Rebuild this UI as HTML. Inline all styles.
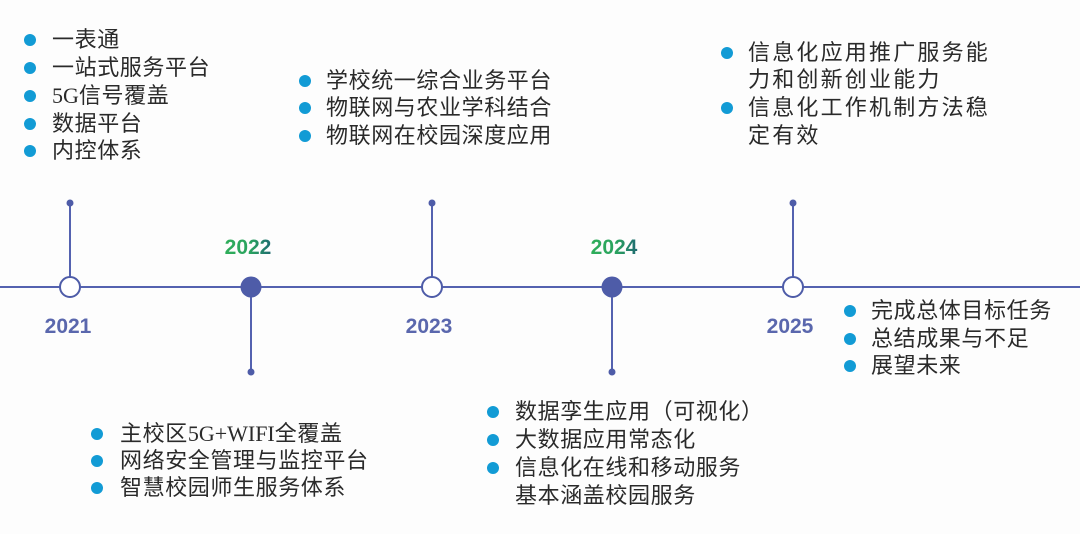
<!DOCTYPE html>
<html><head><meta charset="utf-8"><style>
body{margin:0;width:1080px;height:534px;background:#fdfdfd;position:relative;overflow:hidden;font-family:"Liberation Sans","Noto Sans CJK SC",sans-serif;}
.t{position:absolute;font-size:22px;letter-spacing:0.6px;color:#2a2a2a;white-space:nowrap;line-height:28px;}
.b{position:absolute;width:12px;height:12px;border-radius:50%;background:#129bd5;}
.y{position:absolute;font-size:21px;font-weight:bold;color:#5a67ad;transform:translateX(-50%);line-height:24px;}
.g{background:linear-gradient(90deg,#2fae5a 0%,#2aa25f 55%,#1f6a72 100%);-webkit-background-clip:text;background-clip:text;color:transparent;}
.s{font-family:"Liberation Serif","Noto Serif CJK SC",serif;letter-spacing:0;}
.w{letter-spacing:2.2px;}
</style></head><body>
<svg width="1080" height="534" style="position:absolute;left:0;top:0">
<g stroke="#5462b0" stroke-width="2" fill="none">
<line x1="0" y1="287" x2="1080" y2="287"/>
<line x1="70" y1="203" x2="70" y2="287"/>
<line x1="251" y1="287" x2="251" y2="372"/>
<line x1="432" y1="203" x2="432" y2="287"/>
<line x1="612" y1="287" x2="612" y2="372"/>
<line x1="793" y1="203" x2="793" y2="287"/>
</g>
<g fill="#4e5ca8">
<circle cx="70" cy="203" r="3.5"/><circle cx="251" cy="372" r="3.5"/><circle cx="432" cy="203" r="3.5"/><circle cx="612" cy="372" r="3.5"/><circle cx="793" cy="203" r="3.5"/>
<circle cx="251" cy="287" r="10.5"/><circle cx="612" cy="287" r="10.5"/>
</g>
<g fill="#fff" stroke="#4e5ca8" stroke-width="2">
<circle cx="70" cy="287" r="10"/><circle cx="432" cy="287" r="10"/><circle cx="793" cy="287" r="10"/>
</g>
</svg>
<div class="y" style="left:68px;top:315px">2021</div>
<div class="y g" style="left:248px;top:236px">2022</div>
<div class="y" style="left:429px;top:315px">2023</div>
<div class="y g" style="left:614px;top:236px">2024</div>
<div class="y" style="left:790px;top:315px">2025</div>

<div class="b" style="left:24px;top:34px"></div><div class="t" style="left:52px;top:26px">一表通</div>
<div class="b" style="left:24px;top:62px"></div><div class="t" style="left:52px;top:54px">一站式服务平台</div>
<div class="b" style="left:24px;top:90px"></div><div class="t" style="left:52px;top:82px"><span class="s">5G</span>信号覆盖</div>
<div class="b" style="left:24px;top:118px"></div><div class="t" style="left:52px;top:110px">数据平台</div>
<div class="b" style="left:24px;top:145px"></div><div class="t" style="left:52px;top:137px">内控体系</div>

<div class="b" style="left:299px;top:75px"></div><div class="t" style="left:326px;top:67px">学校统一综合业务平台</div>
<div class="b" style="left:299px;top:102px"></div><div class="t" style="left:326px;top:94px">物联网与农业学科结合</div>
<div class="b" style="left:299px;top:130px"></div><div class="t" style="left:326px;top:122px">物联网在校园深度应用</div>

<div class="b" style="left:721px;top:47px"></div><div class="t w" style="left:748px;top:39px">信息化应用推广服务能</div>
<div class="t w" style="left:748px;top:66px">力和创新创业能力</div>
<div class="b" style="left:721px;top:102px"></div><div class="t w" style="left:748px;top:94px">信息化工作机制方法稳</div>
<div class="t w" style="left:748px;top:122px">定有效</div>

<div class="b" style="left:844px;top:305px"></div><div class="t" style="left:871px;top:297px">完成总体目标任务</div>
<div class="b" style="left:844px;top:333px"></div><div class="t" style="left:871px;top:325px">总结成果与不足</div>
<div class="b" style="left:844px;top:360px"></div><div class="t" style="left:871px;top:352px">展望未来</div>

<div class="b" style="left:91px;top:428px"></div><div class="t" style="left:120px;top:420px">主校区<span class="s">5G+WIFI</span>全覆盖</div>
<div class="b" style="left:91px;top:455px"></div><div class="t" style="left:120px;top:447px">网络安全管理与监控平台</div>
<div class="b" style="left:91px;top:482px"></div><div class="t" style="left:120px;top:474px">智慧校园师生服务体系</div>

<div class="b" style="left:487px;top:406px"></div><div class="t" style="left:515px;top:398px">数据孪生应用（可视化）</div>
<div class="b" style="left:487px;top:434px"></div><div class="t" style="left:515px;top:426px">大数据应用常态化</div>
<div class="b" style="left:487px;top:462px"></div><div class="t" style="left:515px;top:454px">信息化在线和移动服务</div>
<div class="t" style="left:515px;top:482px">基本涵盖校园服务</div>
</body></html>
